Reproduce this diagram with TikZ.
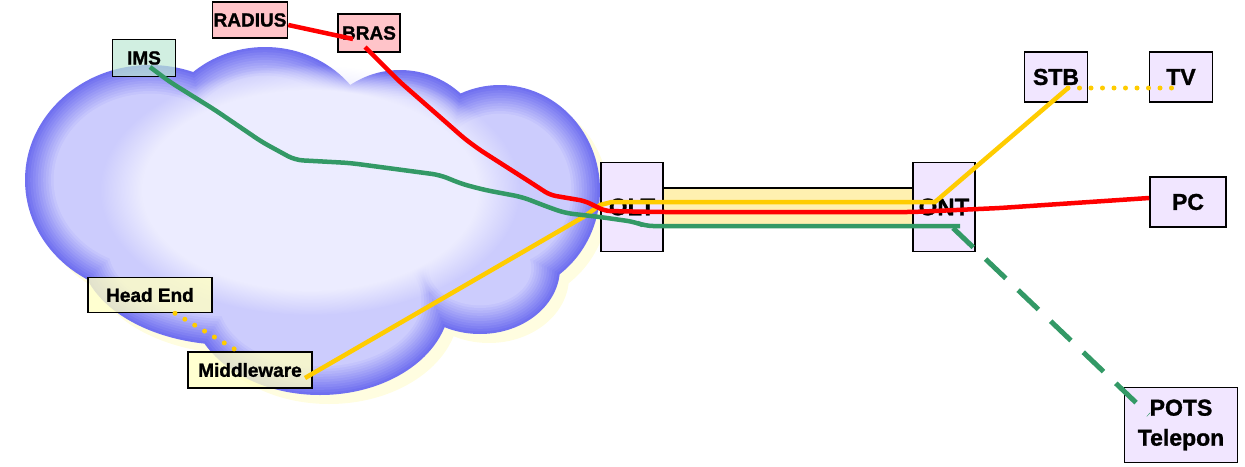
\documentclass[tikz,border=0pt]{standalone}
\usepackage{fontspec}
\setmainfont{Liberation Sans}[BoldFeatures={FakeBold=1.2}]
\usetikzlibrary{calc, positioning, fadings}
\definecolor{cloudin}{RGB}{236,236,255}
\definecolor{cloudmid}{RGB}{204,204,253}
\definecolor{cloudout}{RGB}{112,112,240}
\definecolor{pinkbox}{RGB}{255,190,195}
\definecolor{mintbox}{RGB}{190,232,212}
\definecolor{creambox}{RGB}{255,255,196}
\definecolor{lilac}{RGB}{241,230,255}
\definecolor{fibre}{RGB}{255,240,176}
\definecolor{lnred}{RGB}{255,0,0}
\definecolor{lngreen}{RGB}{51,153,102}
\definecolor{lnyellow}{RGB}{255,204,0}
% nube: uniones de elipses, #1 = encogimiento
\newcommand{\cloudpath}[1]{(150,180) ellipse [x radius=125-#1, y radius=115-#1]
  (265,150) ellipse [x radius=110-#1, y radius=103-#1]
  (400,160) ellipse [x radius=90-#1, y radius=90-#1]
  (500,190) ellipse [x radius=100-#1, y radius=105-#1]
  (480,268) ellipse [x radius=80-#1, y radius=66-#1]
  (320,300) ellipse [x radius=130-#1, y radius=95-#1]
  (230,250) ellipse [x radius=150-#1, y radius=95-#1]}

\begin{document}
\begin{tikzpicture}[
  x=1pt, y=-1pt,
  box/.style={draw, line width=1.6pt, inner sep=0pt, align=center,
              font=\fontsize{19}{21}\selectfont\bfseries},
  srv/.style={box, fill=pinkbox, fill opacity=0.9, text opacity=1},
  tvbox/.style={box, fill=creambox, fill opacity=0.8, text opacity=1,
                minimum width=124, minimum height=35},
  eqp/.style={box, fill=lilac, minimum width=62, minimum height=89,
              font=\fontsize{24}{26}\selectfont\bfseries},
  term/.style={box, fill=lilac, minimum height=50,
               font=\fontsize{23}{30}\selectfont\bfseries},
  redln/.style={draw=lnred, line width=4.5pt, rounded corners=6pt},
  greenln/.style={draw=lngreen, line width=4.5pt, rounded corners=8pt},
  yellowln/.style={draw=lnyellow, line width=4.5pt},
  dotln/.style={draw=lnyellow, line width=5pt, line cap=round,
                dash pattern=on 0pt off 11.5pt},
  dashln/.style={draw=lngreen, line width=5pt, dash pattern=on 28pt off 17pt}
]
\useasboundingbox (0,0) rectangle (1245,466);

%% ——— Nube ———
\begin{scope}[shift={(9,9)}]
  \fill[yellow!12] \cloudpath{0};
\end{scope}
\foreach \k in {0,...,11}{
  \pgfmathsetmacro\mix{\k*100/11}
  \fill[cloudmid!\mix!cloudout] \cloudpath{2.6*\k};
}
\fill[cloudin, path fading=circle with fuzzy edge 20 percent]
  (310,190) ellipse [x radius=210, y radius=125];

%% ——— Servidores ———
\node[srv, minimum width=75, minimum height=36] (radius) at (250,20) {RADIUS};
\node[srv, minimum width=62, minimum height=38] (bras) at (369,33) {BRAS};
\node[box, fill=mintbox, fill opacity=0.7, text opacity=1,
      minimum width=63, minimum height=37] (ims) at (144,58) {IMS};
\node[tvbox] (headend) at (150,295) {Head End};
\node[tvbox, minimum height=36] (mw) at (250,370) {Middleware};

%% ——— Enlace OLT - ONT ———
\node[draw, line width=1.6pt, fill=fibre, minimum width=270, minimum height=38,
      inner sep=0pt] (fibra) at (788,207) {};
\node[eqp] (olt) at (632,207) {OLT};
\node[eqp] (ont) at (944,207) {ONT};

%% ——— Terminales ———
\node[term, minimum width=63] (stb) at (1056,77) {STB};
\node[term, minimum width=63] (tv) at (1181,77) {TV};
\node[term, minimum width=76] (pc) at (1188,202) {PC};
\node[term, minimum width=113, minimum height=75] (pots) at (1181,425) {POTS\\Telepon};

%% ——— Video (amarillo) ———
\draw[dotln] (headend.south) ++(25,0) -- ([xshift=-12pt]mw.north);
\draw[yellowln] ([xshift=55pt,yshift=-8pt]mw.center) -- (585,216) -- (600,205)
  -- (612,202) -- (935,202) -- ([xshift=12pt,yshift=-11pt]stb.center);
\draw[dotln] ([xshift=12pt,yshift=-11pt]stb.center) -- ([xshift=-6pt,yshift=-11pt]tv.center);

%% ——— Voz (verde) ———
\draw[greenln] ([xshift=6pt,yshift=-9pt]ims.center) -- (170,82) -- (215,110)
  -- (262,142) -- (295,160) -- (350,163) -- (440,175) -- (462,184) -- (485,190)
  -- (522,197) -- (548,207) -- (565,213) -- (600,217) -- (635,222) -- (645,226)
  -- ([xshift=16pt,yshift=-19pt]ont.center);
\draw[dashln] ([xshift=9pt,yshift=-21pt]ont.center) -- ([xshift=25pt,yshift=-28pt]pots.north west);

%% ——— Datos (rojo) ———
\draw[redln] ([yshift=-5pt]radius.east) -- ([xshift=-16pt,yshift=-6pt]bras.center);
\draw[redln] ([xshift=-4pt,yshift=-14pt]bras.center) -- (400,82) -- (440,117)
  -- (465,139) -- (480,150) -- (530,182) -- (550,195) -- (585,201) -- (605,211)
  -- (660,212) -- (913,212) -- (1000,208) -- ([yshift=4pt]pc.west);

\end{tikzpicture}
\end{document}
